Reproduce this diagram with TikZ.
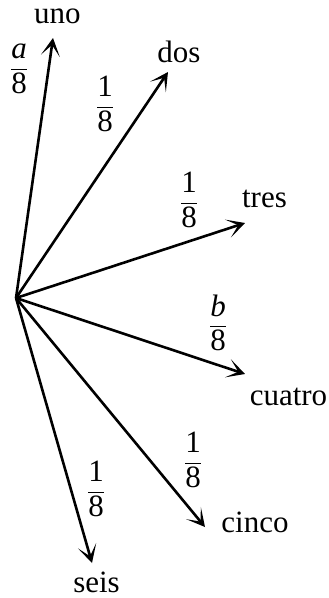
\documentclass[tikz,border=0pt]{standalone}
\usepackage{amsmath}
\usepackage{fontspec}
\setmainfont{Liberation Serif}
\usetikzlibrary{arrows.meta}
\newcommand\myfr[2]{$\dfrac{\text{#1}}{\text{#2}}$}
\tikzset{
  arr/.style={line width=2.6pt, -{Stealth[length=18pt,width=19pt,inset=11pt]}},
  lbl/.style={anchor=base, inner sep=0pt},
  fracl/.style={inner sep=0pt},
}
\begin{document}
\begin{tikzpicture}[x=1pt,y=-1pt,font=\fontsize{31}{36}\selectfont]
\useasboundingbox (0,0) rectangle (329,598);
\coordinate (o) at (16,298);
\coordinate (t1) at (53,38);
\coordinate (t2) at (168,72);
\coordinate (t3) at (245,223);
\coordinate (t4) at (245,374);
\coordinate (t5) at (205,527);
\coordinate (t6) at (92,563);
\node[lbl] (uno) at (57.5,23) {uno};
\node[lbl] (dos) at (179,62) {dos};
\node[lbl] (tres) at (264.5,207) {tres};
\node[lbl] (cuatro) at (288.5,405) {cuatro};
\node[lbl] (cinco) at (255,532) {cinco};
\node[lbl] (seis) at (96.5,592) {seis};
\node[fracl] (f1) at (19,69) {\myfr{\textit{a}}{8}};
\node[fracl] (f2) at (105,104) {\myfr{1}{8}};
\node[fracl] (f3) at (189,200) {\myfr{1}{8}};
\node[fracl] (f4) at (218,323) {\myfr{\textit{b}}{8}};
\node[fracl] (f5) at (193,460) {\myfr{1}{8}};
\node[fracl] (f6) at (96,489) {\myfr{1}{8}};
\foreach \t in {t1,t2,t3,t4,t5,t6} \draw[arr] (o) -- (\t);
\end{tikzpicture}
\end{document}
